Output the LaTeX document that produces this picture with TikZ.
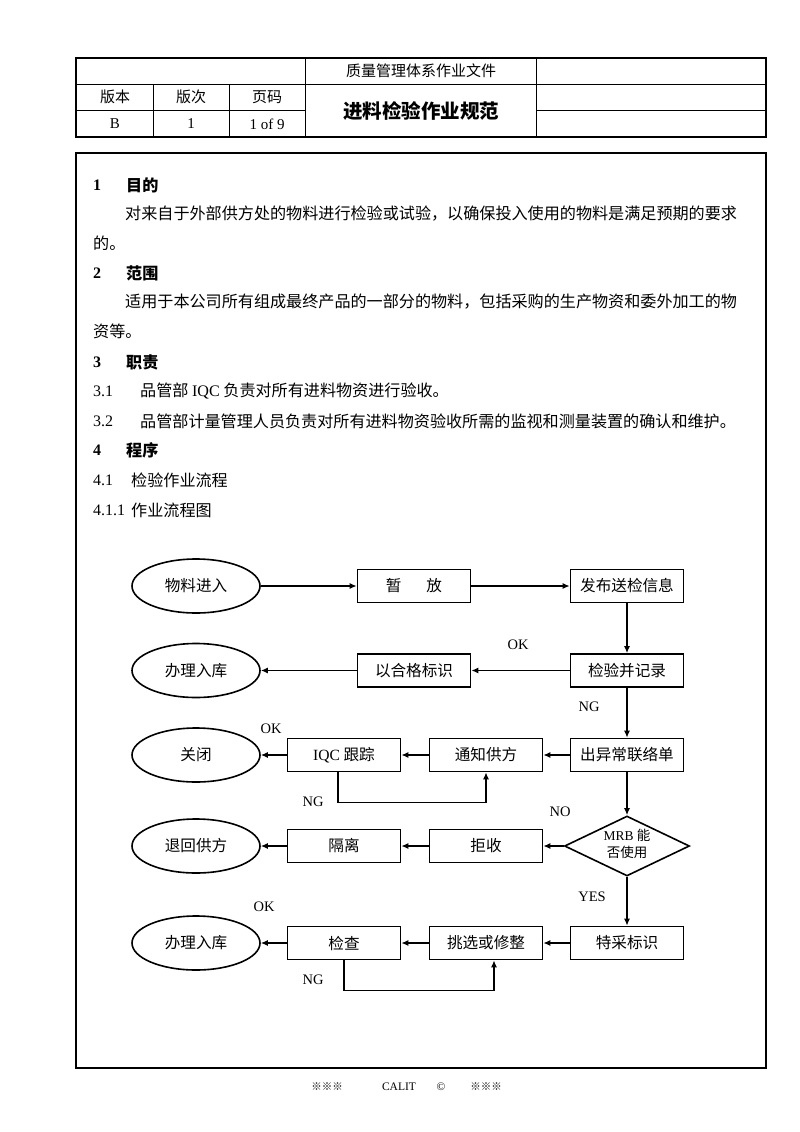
\documentclass[tikz,border=0pt]{standalone}
\usepackage{fontspec}
\setmainfont{Noto Sans CJK SC}
\newfontfamily\lat{Liberation Serif}
\usetikzlibrary{shapes.geometric,arrows.meta}
\newcommand\bodyfs{\fontsize{16.1}{18}\selectfont}
\newcommand\boxfs{\fontsize{15.6}{18}\selectfont}
\newcommand\headfs{\fontsize{15}{18}\selectfont}
\begin{document}
\begin{tikzpicture}[x=1pt,y=-1pt,
  txt/.style={anchor=west,inner sep=0pt,font=\bodyfs},
  hd/.style={anchor=center,inner sep=0pt,font=\headfs},
  stepbox/.style={draw,line width=1.6pt,minimum width=113pt,minimum height=33pt,inner sep=0pt,font=\boxfs},
  oval/.style={ellipse,draw,line width=1.6pt,minimum width=128pt,minimum height=54pt,inner sep=0pt,font=\boxfs},
  arr/.style={line width=1.5pt,-{Latex[length=7pt,width=6pt]}},
  lbl/.style={inner sep=0pt,font=\lat\fontsize{14.5}{17}\selectfont},
  foot/.style={inner sep=0pt,font=\fontsize{10.5}{12}\selectfont}]
\useasboundingbox (0,0) rectangle (800,1132);
\fill[white] (0,0) rectangle (800,1132);
% header table
\draw[line width=1.7pt] (76,58) rectangle (766,137);
\draw[line width=1pt] (76,84) -- (766,84);
\draw[line width=1pt] (76,110) -- (305,110);
\draw[line width=1pt] (536,110) -- (766,110);
\draw[line width=1pt] (153,84) -- (153,137);
\draw[line width=1pt] (229,84) -- (229,137);
\draw[line width=1pt] (305,58) -- (305,137);
\draw[line width=1pt] (536,58) -- (536,137);
\node[hd] (t1) at (421,71) {质量管理体系作业文件};
\node[hd] (t2) at (115,97) {版本};
\node[hd] (t3) at (191,97) {版次};
\node[hd] (t4) at (267,97) {页码};
\node[hd,font=\lat\fontsize{15}{18}\selectfont] (t5) at (115,124) {B};
\node[hd,font=\lat\fontsize{15}{18}\selectfont] (t6) at (191,124) {1};
\node[hd,font=\lat\fontsize{15}{18}\selectfont] (t7) at (267,124) {1 of 9};
\node[hd,font=\fontsize{19.5}{22}\selectfont\bfseries] (t8) at (421,111) {进料检验作业规范};
% main frame
\draw[line width=1.7pt] (76,153) rectangle (766,1068);
% text
\node[txt,font=\lat\bfseries\fontsize{16}{18}\selectfont] (h1n) at (93,185) {1};
\node[txt,font=\bodyfs\bfseries] (h1) at (126,185) {目的};
\node[txt] (p1) at (125,214) {对来自于外部供方处的物料进行检验或试验，以确保投入使用的物料是满足预期的要求};
\node[txt] (p2) at (93,243) {的。};
\node[txt,font=\lat\bfseries\fontsize{16}{18}\selectfont] (h2n) at (93,273) {2};
\node[txt,font=\bodyfs\bfseries] (h2) at (126,273) {范围};
\node[txt] (p3) at (125,302) {适用于本公司所有组成最终产品的一部分的物料，包括采购的生产物资和委外加工的物};
\node[txt] (p4) at (93,331) {资等。};
\node[txt,font=\lat\bfseries\fontsize{16}{18}\selectfont] (h3n) at (93,362) {3};
\node[txt,font=\bodyfs\bfseries] (h3) at (126,362) {职责};
\node[txt,font=\lat\fontsize{16}{18}\selectfont] (n31) at (93,391) {3.1};
\node[txt] (p5) at (140,391) {品管部 {\lat IQC} 负责对所有进料物资进行验收。};
\node[txt,font=\lat\fontsize{16}{18}\selectfont] (n32) at (93,421) {3.2};
\node[txt] (p6) at (140,421) {品管部计量管理人员负责对所有进料物资验收所需的监视和测量装置的确认和维护。};
\node[txt,font=\lat\bfseries\fontsize{16}{18}\selectfont] (h4n) at (93,450) {4};
\node[txt,font=\bodyfs\bfseries] (h4) at (126,450) {程序};
\node[txt,font=\lat\fontsize{16}{18}\selectfont] (n41) at (93,480) {4.1};
\node[txt] (p7) at (131,480) {检验作业流程};
\node[txt,font=\lat\fontsize{16}{18}\selectfont] (n411) at (93,510) {4.1.1};
\node[txt] (p8) at (131,510) {作业流程图};
% flowchart nodes
\node[oval] (e1) at (196,586) {物料进入};
\node[stepbox] (b1) at (414,586) {暂\hspace{1.6em}放};
\node[stepbox] (b2) at (627,586) {发布送检信息};
\node[oval] (e2) at (196,670.5) {办理入库};
\node[stepbox] (b3) at (414,670.5) {以合格标识};
\node[stepbox] (b4) at (627,670.5) {检验并记录};
\node[oval] (e3) at (196,755) {关闭};
\node[stepbox] (b5) at (344,755) {{\lat IQC} 跟踪};
\node[stepbox] (b6) at (486,755) {通知供方};
\node[stepbox] (b7) at (627,755) {出异常联络单};
\node[oval] (e4) at (196,846) {退回供方};
\node[stepbox] (b8) at (344,846) {隔离};
\node[stepbox] (b9) at (486,846) {拒收};
\node[diamond,draw,line width=1.6pt,minimum width=125pt,minimum height=60pt,inner sep=0pt] (d) at (627,846) {};
\node[align=center,inner sep=0pt,font=\fontsize{13.5}{17}\selectfont] (dt) at (627,844) {{\lat MRB} 能\\否使用};
\node[oval] (e5) at (196,943) {办理入库};
\node[stepbox] (b10) at (344,943) {检查};
\node[stepbox] (b11) at (486,943) {挑选或修整};
\node[stepbox] (b12) at (627,943) {特采标识};
% connectors
\draw[arr] (e1) -- (b1);
\draw[arr] (b1) -- (b2);
\draw[arr] (b2) -- (b4);
\draw[arr] (b4) -- (b3);
\draw[arr] (b3) -- (e2);
\draw[arr] (b4) -- (b7);
\draw[arr] (b7) -- (b6);
\draw[arr] (b6) -- (b5);
\draw[arr] (b5) -- (e3);
\draw[arr] ([xshift=-6pt]b5.south) -- ++(0,30) -| (b6.south);
\draw[arr] (b7) -- (d);
\draw[arr] (d) -- (b9);
\draw[arr] (b9) -- (b8);
\draw[arr] (b8) -- (e4);
\draw[arr] (d) -- (b12);
\draw[arr] (b12) -- (b11);
\draw[arr] (b11) -- (b10);
\draw[arr] (b10) -- (e5);
\draw[arr] (b10.south) -- ++(0,30) -| ([xshift=8pt]b11.south);
% labels
\node[lbl] (l1) at (518,645) {OK};
\node[lbl] (l2) at (589,707) {NG};
\node[lbl] (l3) at (271,729) {OK};
\node[lbl] (l4) at (313,802) {NG};
\node[lbl] (l5) at (560,812) {NO};
\node[lbl] (l6) at (592,897) {YES};
\node[lbl] (l7) at (264,907) {OK};
\node[lbl] (l8) at (313,980) {NG};
% footer
\node[foot] (f1) at (327,1087) {※※※};
\node[foot,font=\lat\fontsize{11.5}{13}\selectfont] (f2) at (399,1087) {CALIT};
\node[foot,font=\lat\fontsize{11.5}{13}\selectfont] (f3) at (441,1087) {©};
\node[foot] (f4) at (486,1087) {※※※};
\end{tikzpicture}
\end{document}
